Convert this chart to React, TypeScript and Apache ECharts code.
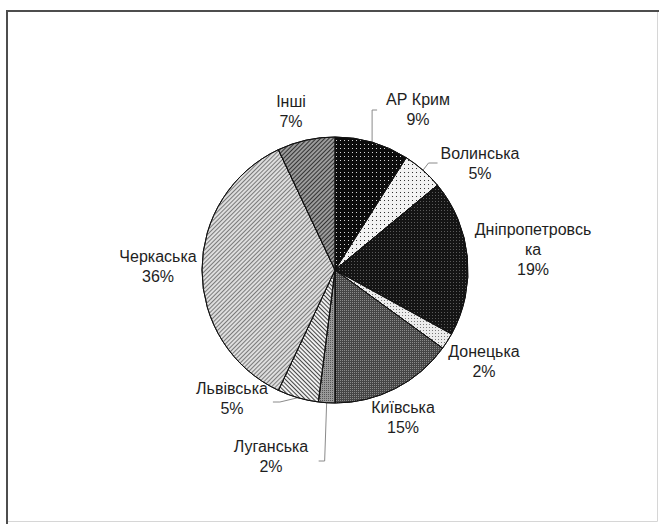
import React, { useEffect, useRef } from "react";
import * as echarts from "echarts";

// ---- data ----
const regions = [
  "АР Крим",
  "Волинська",
  "Дніпропетровська",
  "Донецька",
  "Київська",
  "Луганська",
  "Львівська",
  "Черкаська",
  "Інші",
];
const labelNames = [
  "АР Крим",
  "Волинська",
  "Дніпропетровсь\nка",
  "Донецька",
  "Київська",
  "Луганська",
  "Львівська",
  "Черкаська",
  "Інші",
];
const shares = [9, 5, 19, 2, 15, 2, 5, 36, 7];

// ---- styles ----
const baseColors = ["#0c0c0c", "#f2f2f2", "#141414", "#ececec", "#454545", "#9a9a9a", "#f0f0f0", "#dedede", "#9c9c9c"];
const decals: any[] = [
  { symbol: "rect", symbolSize: 1, color: "#d8d8d8", dashArrayX: [1, 3], dashArrayY: [1, 3] },
  { symbol: "rect", symbolSize: 1, color: "#333333", dashArrayX: [1, 3], dashArrayY: [1, 3] },
  { symbol: "rect", symbolSize: 1, color: "#5a5a5a", dashArrayX: [1, 2], dashArrayY: [1, 2] },
  { symbol: "rect", symbolSize: 1, color: "#777777", dashArrayX: [1, 2], dashArrayY: [1, 2] },
  { symbol: "rect", symbolSize: 1, color: "#8a8a8a", dashArrayX: [1, 1], dashArrayY: [1, 1] },
  { symbol: "rect", symbolSize: 1, color: "#555555", dashArrayX: [1, 1], dashArrayY: [1, 1] },
  { symbol: "rect", symbolSize: 1, color: "#444444", dashArrayX: [1, 0], dashArrayY: [1, 2], rotation: Math.PI / 4 },
  { symbol: "rect", symbolSize: 1, color: "#7a7a7a", dashArrayX: [1, 0], dashArrayY: [1, 2], rotation: -Math.PI / 4 },
  { symbol: "rect", symbolSize: 1, color: "#333333", dashArrayX: [1, 0], dashArrayY: [1, 2], rotation: -Math.PI / 4 },
];
// label block centres (layout)
const labelPos: number[][] = [
  [418, 109],
  [480, 163],
  [533, 249],
  [484, 361],
  [403, 417],
  [271, 456],
  [232, 398],
  [158, 266],
  [291, 111],
];
// leader line kind per label
const leaderKind = ["up", "short", "", "", "", "bracket", "left", "", ""];

export default function App() {
  const ref = useRef<HTMLDivElement>(null);
  useEffect(() => {
    if (!ref.current) return;
    const chart = echarts.init(ref.current, null, { renderer: "svg" });
    const data = regions.map((name, i) => ({
      name,
      value: shares[i],
      itemStyle: { color: baseColors[i], decal: decals[i] },
      labelLine: { show: !!leaderKind[i] },
    }));
    chart.setOption({
      animation: false,
      backgroundColor: "#ffffff",
      aria: { enabled: false, decal: { show: true } },
      graphic: [
        {
          type: "rect",
          shape: { x: 6.5, y: 10.5, width: 651, height: 511 },
          style: { fill: "none", stroke: "#d6d6d6", lineWidth: 1 },
          silent: true,
        },
        {
          type: "polyline",
          shape: { points: [[7, 524], [7, 11], [659, 11]] },
          style: { fill: "none", stroke: "#4d4d4d", lineWidth: 2 },
          silent: true,
        },
      ],
      series: [
        {
          type: "pie",
          center: [335, 270],
          radius: 133,
          startAngle: 90,
          clockwise: true,
          avoidLabelOverlap: false,
          itemStyle: { borderColor: "#111", borderWidth: 1 },
          emphasis: { disabled: true },
          label: {
            show: true,
            position: "outside",
            formatter: (p: any) => labelNames[p.dataIndex] + "\n" + p.value + "%",
            fontFamily: "Liberation Sans, Arial, sans-serif",
            fontSize: 16,
            lineHeight: 20,
            color: "#1e1e1e",
            align: "center",
          },
          labelLine: {
            show: true,
            lineStyle: { color: "#8a8a8a", width: 1 },
          },
          labelLayout: (p: any) => {
            const i = p.dataIndex;
            const cx = labelPos[i][0];
            const cy = labelPos[i][1];
            const res: any = { x: cx, y: cy, align: "center", verticalAlign: "middle" };
            const pts = p.labelLinePoints;
            const w = p.labelRect.width;
            const kind = leaderKind[i];
            if (pts && kind) {
              const s = pts[0];
              const left = cx - w / 2;
              const right = cx + w / 2;
              if (kind === "up") {
                res.labelLinePoints = [s, [s[0], cy + 1], [s[0] + 5, cy + 1]];
              } else if (kind === "short") {
                res.labelLinePoints = [s, [left - 12, cy], [left - 3, cy]];
              } else if (kind === "bracket") {
                res.labelLinePoints = [s, [s[0] - 2, cy + 5], [s[0] - 8, cy + 5]];
              } else if (kind === "left") {
                res.labelLinePoints = [s, [right + 12, cy + 4], [right + 5, cy + 4]];
              }
            }
            return res;
          },
          data,
        },
      ],
    });
    return () => chart.dispose();
  }, []);
  return (
    <div
      ref={ref}
      style={{ position: "fixed", left: 0, top: 0, width: 659, height: 524 }}
    />
  );
}
